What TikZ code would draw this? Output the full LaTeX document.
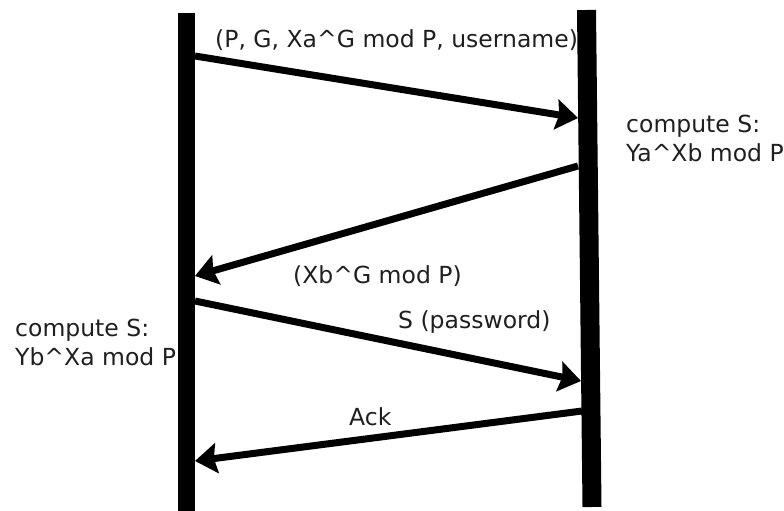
\documentclass[tikz,border=0pt]{standalone}
\usepackage{fontspec}
\setmainfont{DejaVu Sans}
\usetikzlibrary{arrows.meta}
\begin{document}
\begin{tikzpicture}[x=1pt,y=-1pt,
  lbl/.style={anchor=base west,inner sep=0pt,text=black!88,font=\fontsize{23.5}{28}\selectfont},
  msg/.style={line width=7pt,-{Stealth[length=22pt,width=30pt,inset=3pt]}},
  lifeline/.style={line width=#1}]
\useasboundingbox (0,0) rectangle (784,511);

% labels
\node[lbl] (t1) at (215,48) {(P, G, Xa\^{}G mod P, username)};
\node[lbl] (t2a) at (626,132) {compute S:};
\node[lbl] (t2b) at (626,161) {Ya\^{}Xb mod P};
\node[lbl] (t3) at (293,283) {(Xb\^{}G mod P)};
\node[lbl] (t4) at (398,328) {S (password)};
\node[lbl] (t5a) at (15,336) {compute S:};
\node[lbl] (t5b) at (15,365) {Yb\^{}Xa mod P};
\node[lbl] (t6) at (349,425) {Ack};

% message end points on the two lifelines
\coordinate (a1) at (195,56);  \coordinate (b1) at (578,118);
\coordinate (b2) at (578,166); \coordinate (a2) at (195,276);
\coordinate (a3) at (195,301); \coordinate (b3) at (581,381);
\coordinate (b4) at (582,411); \coordinate (a4) at (195,461);

% messages
\draw[msg] (a1) -- (b1);
\draw[msg] (b2) -- (a2);
\draw[msg] (a3) -- (b3);
\draw[msg] (b4) -- (a4);

% lifelines
\coordinate (la) at (186.5,13);  \coordinate (lb) at (186.5,511);
\coordinate (ra) at (586.5,10);  \coordinate (rb) at (592,507);
\draw[lifeline=17pt] (la) -- (lb);
\draw[lifeline=19pt] (ra) -- (rb);
\end{tikzpicture}
\end{document}
